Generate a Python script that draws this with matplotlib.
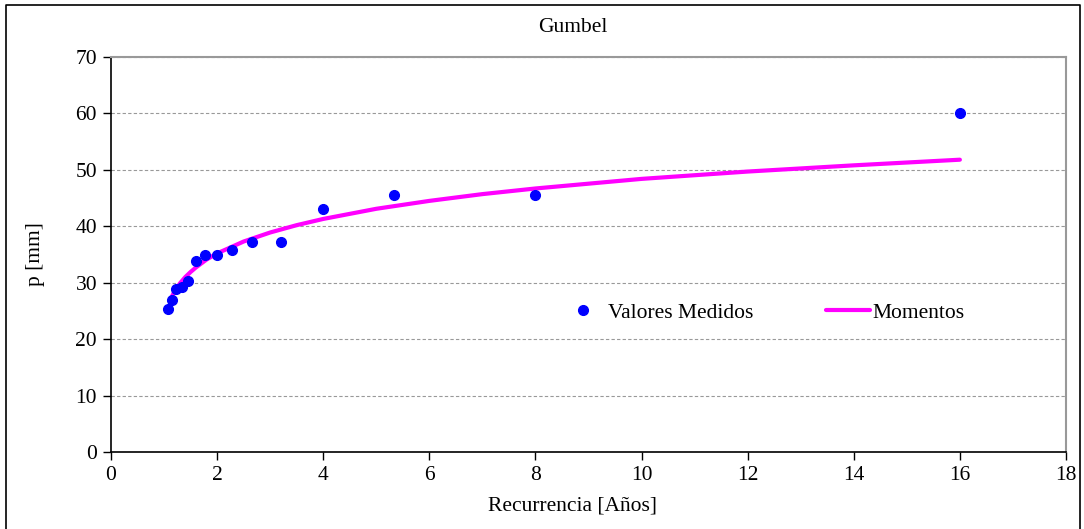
import matplotlib.pyplot as plt
from matplotlib.lines import Line2D

plt.rcParams['font.family'] = ['Liberation Serif', 'DejaVu Serif']

# Measured values (return period T = 16/m)
t_medido = [1.067, 1.143, 1.231, 1.333, 1.455, 1.6, 1.778, 2.0, 2.286, 2.667,
            3.2, 4.0, 5.333, 8.0, 16.0]
p_medido = [25.3, 27.0, 28.8, 29.2, 30.3, 33.9, 34.9, 35.0, 35.8, 37.2,
            37.3, 43.0, 45.6, 45.6, 60.0]

# Gumbel fit (method of moments)
t_momentos = [1.15, 1.2, 1.3, 1.4, 1.5, 1.6, 1.8, 2.0, 2.5, 3.0, 3.5, 4.0,
              5.0, 6.0, 7.0, 8.0, 10.0, 12.0, 14.0, 16.0]
p_momentos = [27.6, 28.5, 29.9, 31.0, 31.9, 32.7, 34.1, 35.2, 37.3, 38.9,
              40.2, 41.3, 43.1, 44.5, 45.7, 46.7, 48.4, 49.7, 50.8, 51.8]

x_ticks = [0, 2, 4, 6, 8, 10, 12, 14, 16, 18]
y_ticks = [0, 10, 20, 30, 40, 50, 60, 70]

fs = 15.5

fig = plt.figure(figsize=(10.84, 5.29), dpi=100)
ax = fig.add_axes([111 / 1084, 1 - 452 / 529, 955 / 1084, 395 / 529])

ax.plot(t_momentos, p_momentos, color='#FF00FF', lw=3, label='Momentos',
        zorder=3, solid_capstyle='round')
ax.plot(t_medido, p_medido, 'o', color='#0000FF', ms=7, mec='#0000FF',
        label='Valores Medidos', zorder=4)

ax.set_xlim(0, 18)
ax.set_ylim(0, 70)
ax.set_xticks(x_ticks)
ax.set_yticks(y_ticks)
ax.tick_params(direction='out', length=6, width=1, labelsize=fs, pad=4)
ax.yaxis.grid(True, linestyle=(0, (3, 2)), color='#999999', lw=0.8)
ax.set_axisbelow(True)

for side in ['top', 'right']:
    ax.spines[side].set_color('#999999')
    ax.spines[side].set_linewidth(1.5)
for side in ['left', 'bottom']:
    ax.spines[side].set_color('black')
    ax.spines[side].set_linewidth(1.2)

ax.set_xlabel('Recurrencia [Años]', fontsize=fs)
ax.xaxis.set_label_coords((572 - 111) / 955, -44 / 395)
ax.set_ylabel('p [mm]', fontsize=fs, labelpad=22)
fig.text(573 / 1084, 1 - 28 / 529, 'Gumbel', ha='center', va='center',
         fontsize=fs)

handles, labels = ax.get_legend_handles_labels()
ax.legend(handles[::-1], labels[::-1], loc='center',
          bbox_to_anchor=(0.683, 0.352), ncol=2, frameon=False, fontsize=fs,
          handlelength=2.0, handletextpad=0.15, columnspacing=3.4)

# outer chart border
fig.add_artist(Line2D([6 / 1084, 6 / 1084, 1080 / 1084, 1080 / 1084],
                      [-0.01, 1 - 5 / 529, 1 - 5 / 529, -0.01],
                      transform=fig.transFigure, color='black', lw=1.2))

fig.savefig('out.png', dpi=100)
